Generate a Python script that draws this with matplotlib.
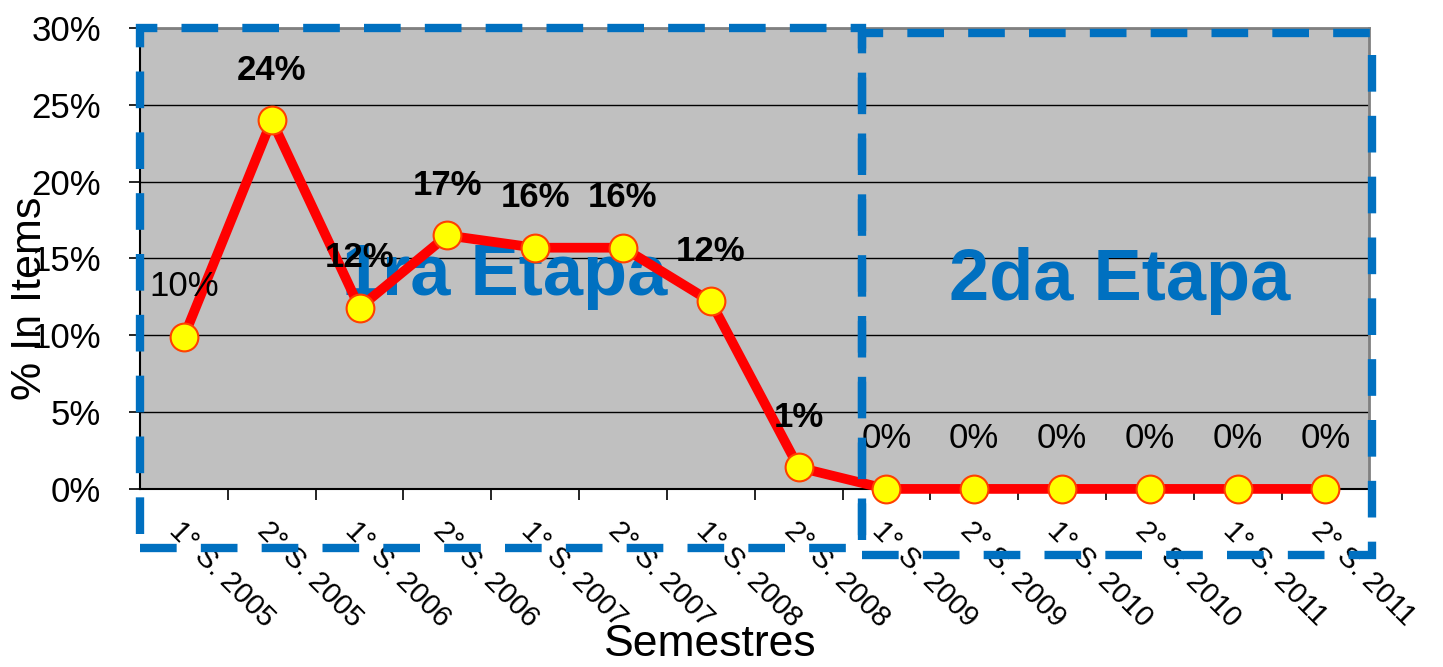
import matplotlib.pyplot as plt
from matplotlib.patches import Rectangle
from matplotlib.ticker import FuncFormatter, MultipleLocator

plt.rcParams['font.family'] = ['Liberation Sans', 'DejaVu Sans']

semestres = ['1° S. 2005', '2° S. 2005', '1° S. 2006', '2° S. 2006',
             '1° S. 2007', '2° S. 2007', '1° S. 2008', '2° S. 2008',
             '1° S. 2009', '2° S. 2009', '1° S. 2010', '2° S. 2010',
             '1° S. 2011', '2° S. 2011']
valores = [9.9, 24.0, 11.8, 16.5, 15.7, 15.7, 12.2, 1.4,
           0.0, 0.0, 0.0, 0.0, 0.0, 0.0]
etiquetas = ['10%', '24%', '12%', '17%', '16%', '16%', '12%', '1%',
             '0%', '0%', '0%', '0%', '0%', '0%']
negrita = [False, True, True, True, True, True, True, True,
           False, False, False, False, False, False]

fig = plt.figure(figsize=(14.43, 6.67), dpi=100)
ax = fig.add_axes([0.097, 0.267, 0.852, 0.691])
ax.set_facecolor('#C0C0C0')

x = list(range(len(semestres)))
ax.plot(x, valores, color='red', lw=7, marker='o', markersize=20,
        markerfacecolor='yellow', markeredgecolor='#FF4000', markeredgewidth=1.5,
        zorder=3, clip_on=False)

for xi, v, t, b in zip(x, valores, etiquetas, negrita):
    ax.annotate(t, (xi, v), xytext=(0, 36), textcoords='offset points',
                ha='center', va='center', fontsize=25,
                fontweight='bold' if b else 'normal', zorder=4)

ax.set_xlim(-0.5, len(semestres) - 0.5)
ax.set_ylim(0, 30)
ax.yaxis.set_major_locator(MultipleLocator(5))
ax.yaxis.set_major_formatter(FuncFormatter(lambda v, p: f'{v:.0f}%'))
ax.grid(axis='y', color='black', lw=1)
ax.set_axisbelow(True)

ax.set_xticks(x)
ax.set_xticklabels(semestres, rotation=-45, ha='left', va='top',
                   rotation_mode='anchor', fontsize=21)
ax.set_xticks([i + 0.5 for i in x], minor=True)
ax.tick_params(axis='x', which='major', length=0, pad=20)
ax.tick_params(axis='x', which='minor', length=8, width=1.2, color='black')
ax.tick_params(axis='y', labelsize=25, length=8, width=1.2, pad=20)

for s in ['top', 'right']:
    ax.spines[s].set_color('#808080')
    ax.spines[s].set_linewidth(2)
for s in ['left', 'bottom']:
    ax.spines[s].set_color('black')
    ax.spines[s].set_linewidth(1.5)

azul = '#0070C0'
estilo = dict(fill=False, edgecolor=azul, lw=6, linestyle=(0, (4.4, 2.9)),
              transform=ax.transAxes, clip_on=False, zorder=5)
ax.add_patch(Rectangle((0.0, -0.128), 0.587, 1.128, **estilo))
ax.add_patch(Rectangle((0.587, -0.143), 0.415, 1.132, **estilo))

ax.text(0.297, 0.462, '1ra Etapa', transform=ax.transAxes, ha='center',
        va='center', fontsize=52, fontweight='bold', color=azul, zorder=2)
ax.text(0.797, 0.451, '2da Etapa', transform=ax.transAxes, ha='center',
        va='center', fontsize=52, fontweight='bold', color=azul, zorder=2)

fig.text(0.492, 0.033, 'Semestres', ha='center', va='center', fontsize=32)
fig.text(0.021, 0.553, '% In Items', ha='center', va='center', fontsize=31,
         rotation=90)

fig.savefig('out.png', dpi=100)
